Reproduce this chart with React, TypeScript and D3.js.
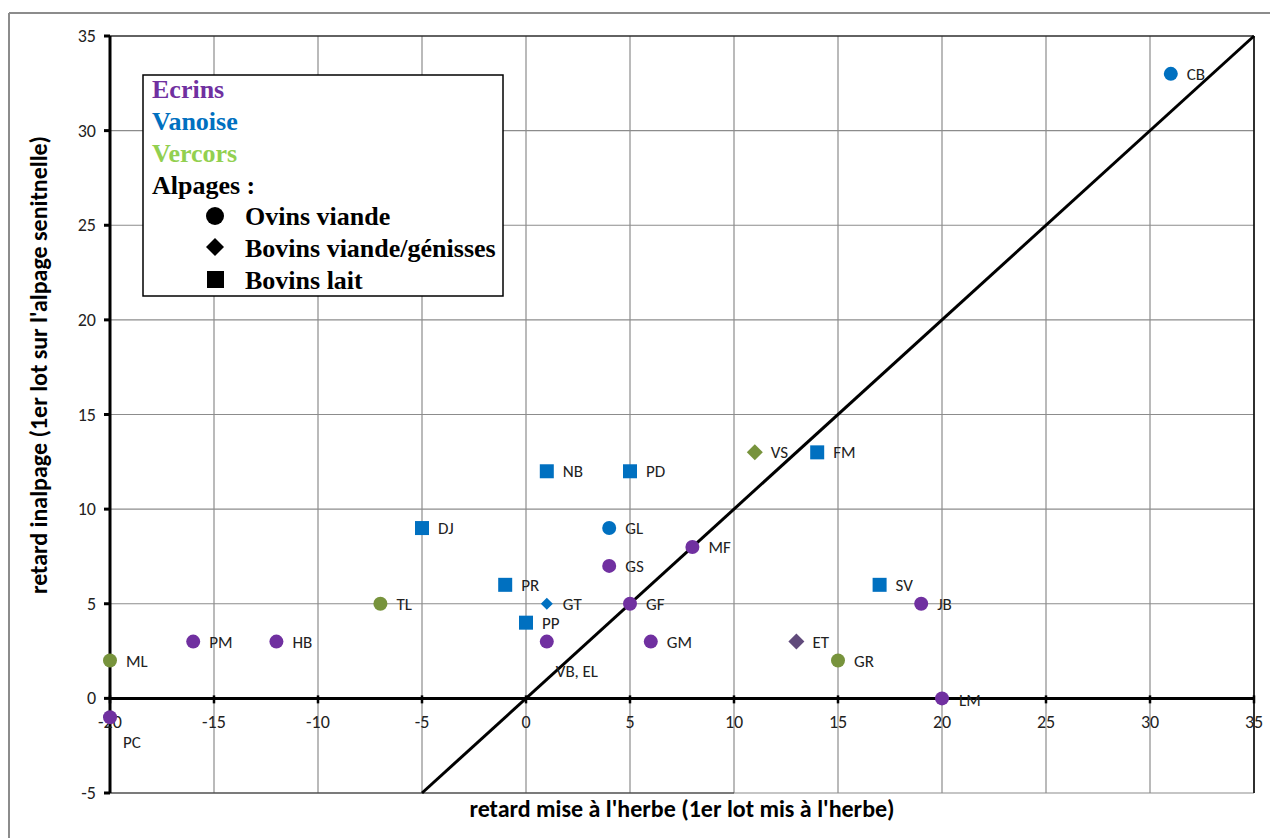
import React from "react";
import * as d3 from "d3";

const labels = ["PC","PM","HB","VB, EL","GS","GF","GM","MF","JB","LM","ET","CB","GL","GT","NB","PD","DJ","PR","PP","FM","SV","ML","TL","GR","VS"];
const xValues = [-20,-16,-12,1,4,5,6,8,19,20,13,31,4,1,1,5,-5,-1,0,14,17,-20,-7,15,11];
const yValues = [-1,3,3,3,7,5,3,8,5,0,3,33,9,5,12,12,9,6,4,13,6,2,5,2,13];
const regions = ["E","E","E","E","E","E","E","E","E","E","Ed","V","V","V","V","V","V","V","V","V","V","C","C","C","C"];
const shapes = ["o","o","o","o","o","o","o","o","o","o","d","o","o","ds","s","s","s","s","s","s","s","o","o","o","d"];
const xTicks = [-20,-15,-10,-5,0,5,10,15,20,25,30,35];
const yTicks = [-5,0,5,10,15,20,25,30,35];
const legendRegions = ["Ecrins","Vanoise","Vercors"];
const legendShapes = ["Ovins viande","Bovins viande/génisses","Bovins lait"];

const colors: Record<string, string> = { E: "#7030A0", Ed: "#604A7B", V: "#0070C0", C: "#77933C" };
const legendColors = ["#7030A0", "#0070C0", "#92D050"];

export default function App() {
  const W = 1270, H = 838;
  const x = d3.scaleLinear().domain([-20, 35]).range([110, 1254]);
  const y = d3.scaleLinear().domain([-5, 35]).range([793, 36]);
  const font = "Carlito, 'Open Sans', 'Liberation Sans', sans-serif";
  const serif = "'Liberation Serif', 'Times New Roman', serif";
  const diag = d3.line<number>().x(d => x(d)).y(d => y(d));

  const labelPos = (i: number) => {
    const px = x(xValues[i]), py = y(yValues[i]);
    const l = labels[i];
    if (l === "PC") return [px + 13, py + 31];
    if (l === "VB, EL") return [px + 9, py + 35];
    if (l === "LM") return [px + 17, py + 8];
    return [px + 16, py + 6];
  };

  const marker = (i: number) => {
    const px = x(xValues[i]), py = y(yValues[i]);
    const c = colors[regions[i]];
    const s = shapes[i];
    if (s === "o") return <circle key={i} cx={px} cy={py} r={7} fill={c} />;
    if (s === "s") return <rect key={i} x={px - 7} y={py - 7} width={14} height={14} fill={c} />;
    const r = s === "ds" ? 6 : 8;
    return <path key={i} d={`M${px},${py - r}L${px + r},${py}L${px},${py + r}L${px - r},${py}Z`} fill={c} />;
  };

  return (
    <svg width={W} height={H} style={{ position: "absolute", left: 0, top: 0, background: "#fff" }}>
      <rect x={0} y={0} width={W} height={H} fill="#fff" />
      {/* outer chart frame */}
      <line x1={9} y1={13} x2={W} y2={13} stroke="#8c8c8c" strokeWidth={2} />
      <line x1={9} y1={13} x2={9} y2={H} stroke="#8c8c8c" strokeWidth={2} />
      {/* grid */}
      {xTicks.map(t => (
        <line key={"gx" + t} x1={x(t)} x2={x(t)} y1={y(35)} y2={y(-5)} stroke="#8c8c8c" strokeWidth={1.2} />
      ))}
      {yTicks.map(t => (
        <line key={"gy" + t} x1={x(-20)} x2={x(35)} y1={y(t)} y2={y(t)} stroke="#8c8c8c" strokeWidth={1.2} />
      ))}
      {/* plot borders */}
      <line x1={x(-20)} x2={x(35)} y1={y(35)} y2={y(35)} stroke="#000" strokeWidth={1.2} />
      <line x1={x(35)} x2={x(35)} y1={y(35)} y2={y(-5)} stroke="#000" strokeWidth={1.5} />
      <line x1={x(-20)} x2={x(10)} y1={y(-5)} y2={y(-5)} stroke="#333" strokeWidth={1.2} />
      {/* diagonal */}
      <path d={diag([-5, 35]) || ""} stroke="#000" strokeWidth={3} fill="none" />
      {/* axes */}
      <line x1={x(-20)} x2={x(35)} y1={y(0)} y2={y(0)} stroke="#000" strokeWidth={3} />
      <line x1={x(-20)} x2={x(-20)} y1={y(35)} y2={y(-5)} stroke="#000" strokeWidth={3} />
      {yTicks.map(t => (
        <line key={"ty" + t} x1={x(-20) - 6} x2={x(-20)} y1={y(t)} y2={y(t)} stroke="#000" strokeWidth={3} />
      ))}
      {xTicks.map(t => (
        <line key={"tx" + t} x1={x(t)} x2={x(t)} y1={y(0) - 3} y2={y(0) + 5} stroke="#000" strokeWidth={2.5} />
      ))}
      {yTicks.map(t => (
        <text key={"ly" + t} x={x(-20) - 14} y={y(t) + 6} textAnchor="end" fontFamily={font} fontSize={18} fill="#222">{t}</text>
      ))}
      {xTicks.map(t => (
        <text key={"lx" + t} x={x(t)} y={y(0) + 30} textAnchor="middle" fontFamily={font} fontSize={18} fill="#222">{t}</text>
      ))}
      {/* points */}
      {labels.map((_, i) => marker(i))}
      {labels.map((l, i) => {
        const [lx, ly] = labelPos(i);
        return <text key={"t" + i} x={lx} y={ly} fontFamily={font} fontSize={17} fill="#222">{l}</text>;
      })}
      {/* axis titles */}
      <text x={682} y={817} textAnchor="middle" fontFamily={font} fontWeight="bold" fontSize={24} fill="#000">retard mise à l'herbe (1er lot mis à l'herbe)</text>
      <text transform={`translate(47,365) rotate(-90)`} textAnchor="middle" fontFamily={font} fontWeight="bold" fontSize={24} fill="#000">retard inalpage (1er lot sur l'alpage senitnelle)</text>
      {/* legend */}
      <rect x={143} y={75} width={360} height={221} fill="#fff" stroke="#000" strokeWidth={1.5} />
      {legendRegions.map((r, i) => (
        <text key={r} x={152} y={98 + i * 32} fontFamily={serif} fontWeight="bold" fontSize={26} fill={legendColors[i]}>{r}</text>
      ))}
      <text x={152} y={194} fontFamily={serif} fontWeight="bold" fontSize={26} fill="#000">Alpages :</text>
      {legendShapes.map((s, i) => (
        <text key={s} x={245} y={225 + i * 32} fontFamily={serif} fontWeight="bold" fontSize={26} fill="#000">{s}</text>
      ))}
      <circle cx={215} cy={216} r={9} fill="#000" />
      <path d="M215,238L224,247L215,256L206,247Z" fill="#000" />
      <rect x={207} y={271} width={17} height={17} fill="#000" />
    </svg>
  );
}
